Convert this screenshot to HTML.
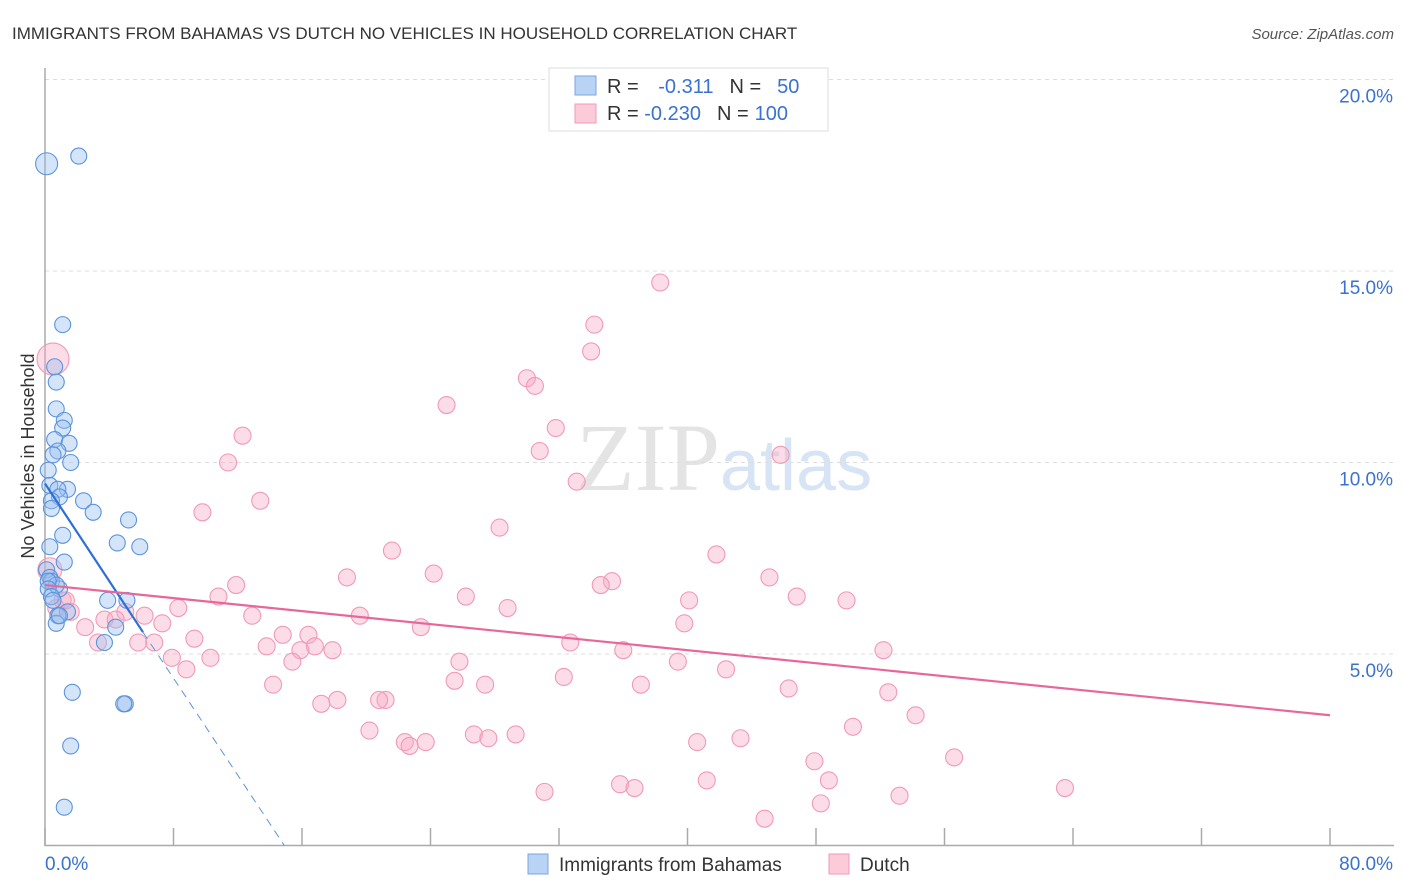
<!DOCTYPE html>
<html><head><meta charset="utf-8"><style>
body{margin:0;background:#fff;font-family:"Liberation Sans",sans-serif}
svg{display:block}
</style></head><body>
<svg id="chart" width="1406" height="892" xmlns="http://www.w3.org/2000/svg">
<text x="12" y="39" font-size="17" fill="#333">IMMIGRANTS FROM BAHAMAS VS DUTCH NO VEHICLES IN HOUSEHOLD CORRELATION CHART</text>
<text x="1394" y="39" font-size="15" fill="#555" text-anchor="end" font-style="italic">Source: ZipAtlas.com</text>
<text x="720" y="490" font-size="96" fill="#e4e4e4" text-anchor="end" font-family="Liberation Serif">ZIP</text>
<text x="720" y="490" font-size="72" fill="#d6e4f5">atlas</text>
<g id="grid"></g>
<g id="axes"></g>
<g id="pts"></g>
<g id="trend"></g>
<text transform="translate(34,456) rotate(-90)" font-size="18" fill="#333" text-anchor="middle">No Vehicles in Household</text>
<g>
<rect x="549" y="68" width="279" height="63" fill="#fff" stroke="#ddd"/>
<rect x="575" y="76" width="21" height="19" fill="#b9d3f5" stroke="#7aa6e0"/>
<rect x="575" y="104" width="21" height="19" fill="#fbcbd9" stroke="#f19ab4"/>
<text x="607" y="93" font-size="20" fill="#333">R = <tspan fill="#3a72d0" dx="14">-0.311</tspan><tspan fill="#333" dx="16">N =</tspan><tspan fill="#3a72d0" dx="16">50</tspan></text>
<text x="607" y="120" font-size="20" fill="#333">R = <tspan fill="#3a72d0">-0.230</tspan><tspan fill="#333" dx="16">N =</tspan><tspan fill="#3a72d0" dx="6">100</tspan></text>
</g>
<g>
<rect x="528" y="854" width="20" height="20" fill="#b9d3f5" stroke="#7aa6e0"/>
<text x="559" y="871" font-size="19" fill="#333">Immigrants from Bahamas</text>
<rect x="829" y="854" width="20" height="20" fill="#fbcbd9" stroke="#f19ab4"/>
<text x="860" y="871" font-size="19" fill="#333">Dutch</text>
</g>
</svg>
<script>
const yTicks=[5,10,15,20];
const xTickLabels=["0.0%","80.0%"];
const blueX=[2.1,0.1,1.1,0.6,0.7,0.7,1.2,1.1,0.6,1.5,0.8,0.5,1.6,0.2,0.3,1.4,0.8,0.9,0.4,2.4,0.4,3.0,5.2,1.1,4.5,5.9,0.3,1.2,0.1,0.3,0.4,0.9,0.7,3.9,5.1,1.4,0.8,0.7,4.4,3.7,1.7,5.0,4.9,1.6,1.2,0.2,0.2,0.4,0.9,0.5];
const blueY=[18.0,17.8,13.6,12.5,12.1,11.4,11.1,10.9,10.6,10.5,10.3,10.2,10.0,9.8,9.4,9.3,9.3,9.1,9.0,9.0,8.8,8.7,8.5,8.1,7.9,7.8,7.8,7.4,7.2,7.0,6.9,6.7,6.8,6.4,6.4,6.1,6.0,5.8,5.7,5.3,4.0,3.7,3.7,2.6,1.0,6.9,6.7,6.5,6.0,6.4];
const pinkX=[38.3,34.2,34.0,30.0,30.5,25.0,31.8,12.3,30.8,45.8,11.4,33.1,13.4,28.3,9.8,21.6,41.8,18.8,24.2,45.1,35.3,34.6,11.9,10.8,26.2,40.1,46.8,49.9,28.8,8.3,19.6,5.0,12.9,6.2,0.7,1.1,1.6,7.3,3.7,4.4,2.5,23.4,39.8,9.3,14.8,16.4,32.7,3.3,5.8,6.8,13.8,16.8,15.9,17.9,36.0,52.2,7.9,10.3,15.4,25.8,39.4,8.8,42.4,32.3,25.5,27.4,37.1,14.2,46.3,52.5,21.2,18.2,17.2,20.8,54.2,50.3,20.2,26.7,29.3,27.6,40.6,43.3,22.4,22.7,23.7,56.6,47.9,41.2,35.8,36.7,48.8,63.5,31.1,53.2,48.3,44.8,0.5,0.3,1.3];
const pinkY=[14.7,13.6,12.9,12.2,12.0,11.5,10.9,10.7,10.3,10.2,10.0,9.5,9.0,8.3,8.7,7.7,7.6,7.0,7.1,7.0,6.9,6.8,6.8,6.5,6.5,6.4,6.5,6.4,6.2,6.2,6.0,6.1,6.0,6.0,6.2,6.4,6.1,5.8,5.9,5.9,5.7,5.7,5.8,5.4,5.5,5.5,5.3,5.3,5.3,5.3,5.2,5.2,5.1,5.1,5.1,5.1,4.9,4.9,4.8,4.8,4.8,4.6,4.6,4.4,4.3,4.2,4.2,4.2,4.1,4.0,3.8,3.8,3.7,3.8,3.4,3.1,3.0,2.9,2.9,2.8,2.7,2.8,2.7,2.6,2.7,2.3,2.2,1.7,1.6,1.5,1.7,1.5,1.4,1.3,1.1,0.7,12.7,7.2,6.4];
const blueTrend=[0,9.45,6.1,5.57,14.9,0];
const pinkTrend=[0,6.8,80,3.4];
const NS="http://www.w3.org/2000/svg";
const X=v=>45+v/80*1285, Y=v=>845.5-v*38.3;
function mk(tag,attrs,parent){const e=document.createElementNS(NS,tag);for(const k in attrs)e.setAttribute(k,attrs[k]);parent.appendChild(e);return e;}
const grid=document.getElementById('grid'),axes=document.getElementById('axes'),pts=document.getElementById('pts'),tr=document.getElementById('trend');
yTicks.forEach(t=>{
 const l=mk('line',{x1:45,x2:1394,y1:Y(t),y2:Y(t),stroke:'#ddd','stroke-dasharray':'4,4'},grid);
 
 
 const tx=mk('text',{x:1393,y:Y(t)+23,'font-size':19,fill:'#3a72d0','text-anchor':'end'},axes);
 tx.textContent=t.toFixed(1)+'%';
 
 
});
mk('line',{x1:45,x2:45,y1:68,y2:846,stroke:'#aaa','stroke-width':1.5},axes);
mk('line',{x1:45,x2:1394,y1:845.5,y2:845.5,stroke:'#aaa','stroke-width':1.5},axes);
for(let i=0;i<=10;i++){const t=mk('line',{x1:X(i*8),x2:X(i*8),y1:828,y2:846,stroke:'#aaa','stroke-width':1.5},axes);
 
 }
const xl0=mk('text',{x:45,y:870,'font-size':19,fill:'#3a72d0'},axes);xl0.textContent=xTickLabels[0];


const xl1=mk('text',{x:1393,y:870,'font-size':19,fill:'#3a72d0','text-anchor':'end'},axes);xl1.textContent=xTickLabels[1];


pinkX.forEach((v,i)=>{const big=(i==96)?16:(i==97?12:8.5);
 const c=mk('circle',{cx:X(v),cy:Y(pinkY[i]),r:big,fill:'rgba(247,170,195,0.4)',stroke:'#f19ab4','stroke-width':1.1},pts);
 
 });
blueX.forEach((v,i)=>{const r=(i==1)?11:8;
 const c=mk('circle',{cx:X(v),cy:Y(blueY[i]),r:r,fill:'rgba(150,190,240,0.4)',stroke:'#5b93dd','stroke-width':1.1},pts);
 
 });
const b1=mk('line',{x1:X(blueTrend[0]),y1:Y(blueTrend[1]),x2:X(blueTrend[2]),y2:Y(blueTrend[3]),stroke:'#2e6fd6','stroke-width':2.2},tr);


const b2=mk('line',{x1:X(blueTrend[2]),y1:Y(blueTrend[3]),x2:X(blueTrend[4]),y2:Y(blueTrend[5]),stroke:'#5b93dd','stroke-width':1,'stroke-dasharray':'8,6'},tr);


const p1=mk('line',{x1:X(pinkTrend[0]),y1:Y(pinkTrend[1]),x2:X(pinkTrend[2]),y2:Y(pinkTrend[3]),stroke:'#e8679a','stroke-width':2.2},tr);


</script>
</body></html>
